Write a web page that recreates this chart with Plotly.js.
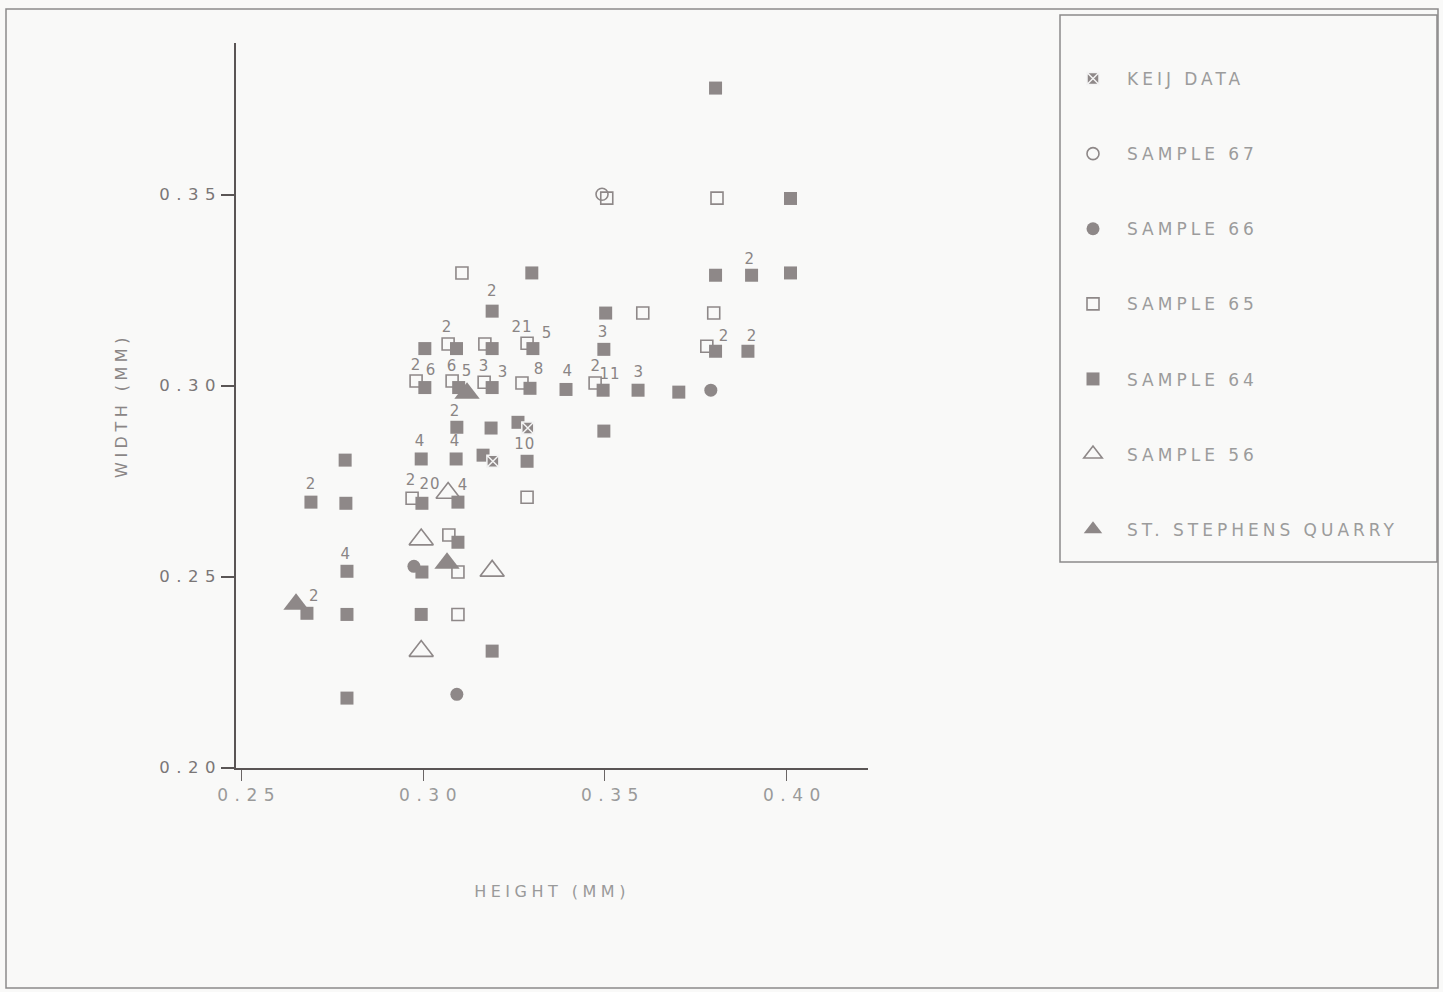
<!DOCTYPE html>
<html>
<head>
<meta charset="utf-8">
<script src="https://cdn.plot.ly/plotly-3.0.1.min.js"></script>
<style>
  html, body { margin: 0; padding: 0; background: #f9f9f8; }
  #chart { width: 1443px; height: 992px; }
  .legendtext { letter-spacing: 4px; }
  .xtick text, .ytick text { letter-spacing: 6.5px; }
  .g-xtitle text, .g-ytitle text { letter-spacing: 4.5px; }
  .textpoint text { letter-spacing: 1px; }
</style>
</head>
<body>
<div id="chart"></div>
<script>
// ---- data (height mm, width mm) ----
const keijX = [0.3288, 0.3192];
const keijY = [0.2889, 0.2802];

const s67X = [0.3492];
const s67Y = [0.3501];

const s66X = [0.3791, 0.2975, 0.3093];
const s66Y = [0.2988, 0.2527, 0.2192];

const s65X = [0.3107, 0.3505, 0.3808, 0.3604, 0.3799, 0.3069, 0.3170, 0.3286, 0.3780,
              0.2981, 0.3080, 0.3168, 0.3272, 0.3473, 0.2970, 0.3286, 0.3071, 0.3096, 0.3096];
const s65Y = [0.3295, 0.3491, 0.3491, 0.3190, 0.3190, 0.3109, 0.3109, 0.3111, 0.3103,
              0.3012, 0.3012, 0.3009, 0.3007, 0.3007, 0.2705, 0.2708, 0.2609, 0.2512, 0.2401];

const s64X = [0.3804, 0.4010, 0.3299, 0.3804, 0.3903, 0.4010, 0.3190, 0.3502,
              0.3005, 0.3092, 0.3190, 0.3302, 0.3497, 0.3804, 0.3893,
              0.3005, 0.3098, 0.3190, 0.3294, 0.3393, 0.3495, 0.3591, 0.3703,
              0.3093, 0.3187, 0.3261, 0.3497,
              0.2786, 0.2995, 0.3091, 0.3165, 0.3286,
              0.2692, 0.2788, 0.2997, 0.3096,
              0.3096, 0.2791, 0.2997,
              0.2681, 0.2791, 0.2995, 0.3190, 0.2791];
const s64Y = [0.3779, 0.3490, 0.3295, 0.3289, 0.3289, 0.3295, 0.3195, 0.3190,
              0.3097, 0.3097, 0.3097, 0.3097, 0.3095, 0.3090, 0.3090,
              0.2995, 0.2995, 0.2995, 0.2993, 0.2990, 0.2988, 0.2988, 0.2983,
              0.2891, 0.2889, 0.2904, 0.2881,
              0.2805, 0.2808, 0.2808, 0.2818, 0.2802,
              0.2695, 0.2692, 0.2692, 0.2695,
              0.2590, 0.2514, 0.2512,
              0.2404, 0.2401, 0.2401, 0.2305, 0.2182];

const s56X = [0.3069, 0.2995, 0.3190, 0.2995];
const s56Y = [0.2719, 0.2597, 0.2515, 0.2305];

const ssqX = [0.3121, 0.3066, 0.2651];
const ssqY = [0.2980, 0.2535, 0.2428];

// counts of coincident specimens, written beside the points
const countText = ["2", "2", "2", "21", "5", "3", "2", "2",
                   "2", "6", "6", "5", "3", "3", "8", "4", "2", "11", "3",
                   "2", "10", "4", "4",
                   "2", "2", "20", "4", "4", "2"];
const countX = [0.3898, 0.3190, 0.3066, 0.3272, 0.3341, 0.3495, 0.3827, 0.3904,
                0.2981, 0.3022, 0.3080, 0.3121, 0.3168, 0.3220, 0.3319, 0.3398, 0.3475, 0.3514, 0.3593,
                0.3088, 0.3280, 0.2992, 0.3088,
                0.2692, 0.2967, 0.3019, 0.3110, 0.2788, 0.2701];
const countY = [0.3329, 0.3245, 0.3151, 0.3151, 0.3135, 0.3137, 0.3127, 0.3127,
                0.3051, 0.3038, 0.3048, 0.3035, 0.3048, 0.3033, 0.3041, 0.3035, 0.3048, 0.3027, 0.3033,
                0.2931, 0.2844, 0.2852, 0.2852,
                0.2740, 0.2750, 0.2740, 0.2737, 0.2556, 0.2446];

const xTickVals = [0.25, 0.30, 0.35, 0.40];
const xTickText = ["0.25", "0.30", "0.35", "0.40"];
const yTickVals = [0.20, 0.25, 0.30, 0.35];
const yTickText = ["0.20", "0.25", "0.30", "0.35"];

const names = ["KEIJ DATA", "SAMPLE 67", "SAMPLE 66", "SAMPLE 65", "SAMPLE 64", "SAMPLE 56", "ST. STEPHENS QUARRY"];

// ---- styling ----
const GRAY = '#8e8888';
const FONT = 'DejaVu Sans, sans-serif';

function pts(name, x, y, rank, marker) {
  return {
    type: 'scatter', mode: 'markers', name: name, x: x, y: y,
    legendgroup: name, legendrank: rank,
    marker: marker, hoverinfo: 'x+y+name'
  };
}

const traces = [
  pts(names[3], s65X, s65Y, 4, {symbol: 'square-open', size: 12, color: GRAY, line: {width: 1.6, color: GRAY}}),
  pts(names[5], s56X, s56Y, 6, {symbol: 'triangle-up-open', size: 21, color: GRAY, line: {width: 1.6, color: GRAY}}),
  pts(names[4], s64X, s64Y, 5, {symbol: 'square', size: 13, color: GRAY, line: {width: 0}}),
  pts(names[2], s66X, s66Y, 3, {symbol: 'circle', size: 13, color: GRAY, line: {width: 0}}),
  pts(names[1], s67X, s67Y, 2, {symbol: 'circle-open', size: 12, color: GRAY, line: {width: 1.6, color: GRAY}}),
  pts(names[6], ssqX, ssqY, 7, {symbol: 'triangle-up', size: 22, color: GRAY, line: {width: 0}}),
  pts(names[0], keijX, keijY, 1, {symbol: 'square-x', size: 12, color: GRAY, line: {width: 1.5, color: '#f4f4f4'}}),
  {
    type: 'scatter', mode: 'text', x: countX, y: countY, text: countText,
    textfont: {family: FONT, size: 15, color: '#8a8585'},
    showlegend: false, hoverinfo: 'skip', cliponaxis: false
  }
];

// plot area: x 236..868 px, y 43..768 px
const L = 236, R = 868, T = 43, B = 768;
const px = v => (v - L) / (R - L);
const py = v => (B - v) / (B - T);

const layout = {
  width: 1443, height: 992,
  margin: {l: L, r: 1443 - R, t: T, b: 992 - B, pad: 0},
  paper_bgcolor: '#f9f9f8', plot_bgcolor: '#f9f9f8',
  font: {family: FONT, color: '#999999'},
  showlegend: true,
  legend: {
    xref: 'container', yref: 'container',
    x: 1059 / 1443, y: 1 - 61 / 992, xanchor: 'left', yanchor: 'top',
    bgcolor: 'rgba(0,0,0,0)', borderwidth: 0,
    font: {family: FONT, size: 17, color: '#9c9c9c'},
    traceorder: 'grouped', tracegroupgap: 50, itemwidth: 58
  },
  xaxis: {
    range: [0.2486, 0.4223], showgrid: false, zeroline: false,
    showline: true, linecolor: '#5a5555', linewidth: 1.5,
    ticks: 'outside', ticklen: 11, tickwidth: 1.2, tickcolor: '#6a6565',
    tickvals: xTickVals, ticktext: xTickText, ticklabelshift: 8,
    tickfont: {family: FONT, size: 17, color: '#9a9a9a'},
    title: {text: 'HEIGHT (MM)', standoff: 82, font: {family: FONT, size: 16, color: '#9a9a9a'}}
  },
  yaxis: {
    range: [0.1999, 0.3897], showgrid: false, zeroline: false,
    showline: true, linecolor: '#5a5555', linewidth: 1.5,
    ticks: 'outside', ticklen: 13, tickwidth: 1.5, tickcolor: '#5a5555',
    tickvals: yTickVals, ticktext: yTickText, ticklabelstandoff: -4,
    tickfont: {family: FONT, size: 16.5, color: '#7a7676'},
    title: {text: 'WIDTH (MM)', standoff: 28, font: {family: FONT, size: 16, color: '#8a8686'}}
  },
  shapes: [
    {type: 'rect', xref: 'paper', yref: 'paper', layer: 'below',
     x0: px(6), x1: px(1438), y0: py(988), y1: py(9),
     line: {color: '#8c8a8a', width: 1.5}, fillcolor: 'rgba(0,0,0,0)'},
    {type: 'rect', xref: 'paper', yref: 'paper', layer: 'below',
     x0: px(1060), x1: px(1437), y0: py(562), y1: py(15),
     line: {color: '#8c8a8a', width: 1.5}, fillcolor: 'rgba(0,0,0,0)'}
  ]
};

Plotly.newPlot('chart', traces, layout, {displayModeBar: false});
</script>
</body>
</html>
